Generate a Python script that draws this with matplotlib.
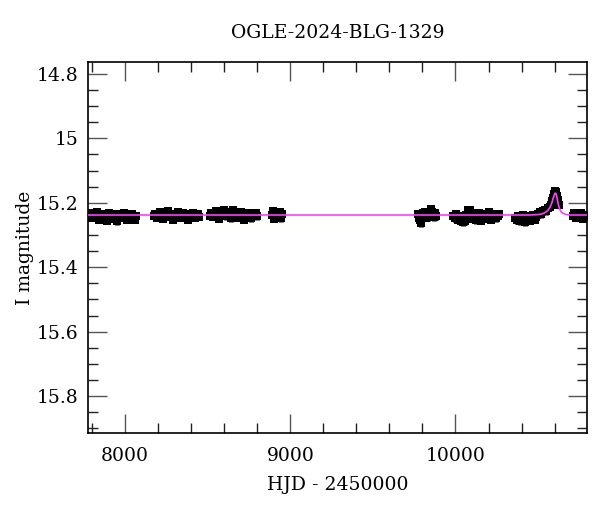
import matplotlib
matplotlib.use("Agg")
import matplotlib.pyplot as plt
from matplotlib.ticker import MultipleLocator, FormatStrFormatter

title = "OGLE-2024-BLG-1329"
x_label = "HJD - 2450000"
y_label = "I magnitude"

# observing seasons: epochs (HJD - 2450000) and I magnitudes
s1_t = [7780, 7790, 7800, 7810, 7820, 7830, 7840, 7850, 7860, 7870,
        7880, 7890, 7900, 7910, 7920, 7930, 7940, 7950, 7960, 7970,
        7980, 7990, 8000, 8010, 8020, 8030, 8040, 8050, 8060, 8068]
s1_m = [15.240, 15.232, 15.248, 15.236, 15.244, 15.230, 15.252, 15.240, 15.234, 15.246,
        15.238, 15.256, 15.232, 15.242, 15.250, 15.236, 15.244, 15.258, 15.234, 15.240,
        15.248, 15.232, 15.242, 15.254, 15.238, 15.246, 15.234, 15.244, 15.252, 15.240]

s2_t = [8172, 8180, 8190, 8200, 8210, 8220, 8230, 8240, 8250, 8260,
        8270, 8280, 8290, 8300, 8310, 8320, 8330, 8340, 8350, 8360,
        8370, 8380, 8390, 8400, 8410, 8420, 8430, 8440, 8448]
s2_m = [15.240, 15.234, 15.246, 15.236, 15.228, 15.242, 15.250, 15.232, 15.240, 15.226,
        15.244, 15.236, 15.252, 15.234, 15.242, 15.230, 15.248, 15.238, 15.232, 15.246,
        15.240, 15.254, 15.236, 15.242, 15.232, 15.248, 15.240, 15.236, 15.244]

s3_t = [8512, 8520, 8530, 8540, 8550, 8560, 8570, 8580, 8590, 8600,
        8610, 8620, 8630, 8640, 8650, 8660, 8670, 8680, 8690, 8700,
        8710, 8720, 8730, 8740, 8750, 8760, 8770, 8780, 8790, 8800]
s3_m = [15.240, 15.232, 15.244, 15.236, 15.226, 15.240, 15.250, 15.232, 15.238, 15.224,
        15.242, 15.234, 15.230, 15.248, 15.222, 15.236, 15.246, 15.232, 15.240, 15.228,
        15.238, 15.252, 15.234, 15.242, 15.232, 15.248, 15.236, 15.240, 15.232, 15.242]

s4_t = [8888, 8896, 8904, 8912, 8920, 8928, 8936, 8944, 8950]
s4_m = [15.238, 15.226, 15.250, 15.232, 15.246, 15.240, 15.228, 15.248, 15.236]

s5_t = [9774, 9780, 9786, 9792, 9798, 9804, 9810, 9816, 9822, 9828,
        9834, 9840, 9846, 9852, 9858, 9864, 9870, 9876, 9882]
s5_m = [15.236, 15.246, 15.252, 15.264, 15.248, 15.232, 15.244, 15.230, 15.246, 15.236,
        15.244, 15.230, 15.240, 15.220, 15.228, 15.236, 15.244, 15.232, 15.242]

s6_t = [9986, 9995, 10005, 10015, 10025, 10035, 10045, 10055, 10065, 10075,
        10085, 10095, 10105, 10115, 10125, 10135, 10145, 10155, 10165, 10175,
        10185, 10195, 10205, 10215, 10225, 10235, 10245, 10255, 10262]
s6_m = [15.240, 15.248, 15.234, 15.252, 15.242, 15.256, 15.260, 15.258, 15.238, 15.224,
        15.222, 15.232, 15.250, 15.236, 15.254, 15.242, 15.232, 15.256, 15.246, 15.234,
        15.250, 15.240, 15.230, 15.252, 15.242, 15.234, 15.248, 15.240, 15.236]

s7_t = [10360, 10370, 10380, 10390, 10400, 10410, 10420, 10430, 10440, 10450,
        10460, 10470, 10480, 10490, 10500, 10510, 10520, 10530, 10540, 10550,
        10560, 10570, 10578, 10585, 10592, 10598, 10604, 10610, 10616, 10622, 10628]
s7_m = [15.246, 15.254, 15.240, 15.258, 15.248, 15.238, 15.260, 15.250, 15.242, 15.256,
        15.246, 15.238, 15.252, 15.244, 15.236, 15.230, 15.236, 15.226, 15.222, 15.226,
        15.216, 15.212, 15.206, 15.196, 15.184, 15.172, 15.162, 15.166, 15.178, 15.192, 15.206]

s8_t = [10710, 10720, 10730, 10740, 10750, 10760, 10770, 10780, 10790]
s8_m = [15.240, 15.232, 15.248, 15.236, 15.244, 15.232, 15.250, 15.238, 15.240]

season_t = [s1_t, s2_t, s3_t, s4_t, s5_t, s6_t, s7_t, s8_t]
season_m = [s1_m, s2_m, s3_m, s4_m, s5_m, s6_m, s7_m, s8_m]
season_err = [0.010, 0.010, 0.011, 0.011, 0.012, 0.011, 0.011, 0.010]

# point-lens model curve
model_t = [7775, 10450, 10490, 10510, 10525, 10540, 10552, 10562, 10572, 10580,
           10587, 10593, 10598, 10602, 10605, 10608, 10612, 10616, 10620, 10625,
           10631, 10638, 10648, 10660, 10675, 10695, 10800]
model_m = [15.238, 15.238, 15.237, 15.236, 15.234, 15.231, 15.227, 15.222, 15.214, 15.205,
           15.194, 15.183, 15.176, 15.171, 15.170, 15.172, 15.178, 15.188, 15.199, 15.210,
           15.220, 15.227, 15.232, 15.235, 15.237, 15.238, 15.238]

plt.rcParams["font.family"] = ["DejaVu Serif"]

fig = plt.figure(figsize=(6, 5.12), dpi=100)
ax = fig.add_axes([0.1467, 0.154, 0.8313, 0.725])

for t, m, e in zip(season_t, season_m, season_err):
    ax.errorbar(t, m, yerr=e, fmt="s", color="black", ms=5.5, mew=0,
                elinewidth=3.5, capsize=0, zorder=2)

ax.plot(model_t, model_m, color="#ff3cff", lw=1.2, zorder=3)

ax.set_xlim(7775, 10795)
ax.set_ylim(15.915, 14.763)

ax.xaxis.set_major_locator(MultipleLocator(1000))
ax.xaxis.set_minor_locator(MultipleLocator(200))
ax.yaxis.set_major_locator(MultipleLocator(0.2))
ax.yaxis.set_minor_locator(MultipleLocator(0.05))
ax.yaxis.set_major_formatter(FormatStrFormatter("%g"))

ax.tick_params(which="both", direction="in", top=True, right=True,
               labelsize=13.5)
ax.tick_params(axis="x", pad=10)
ax.tick_params(axis="y", pad=7)
ax.tick_params(which="major", length=13.5, width=1.0, color="#555555")
ax.tick_params(which="minor", length=7, width=1.0, color="#222222")
for s in ax.spines.values():
    s.set_linewidth(1.2)

ax.set_title(title, fontsize=13.5, pad=17)
ax.set_xlabel(x_label, fontsize=13.5, labelpad=8)
ax.set_ylabel(y_label, fontsize=13.5, labelpad=2)

fig.savefig("out.png", dpi=100)
